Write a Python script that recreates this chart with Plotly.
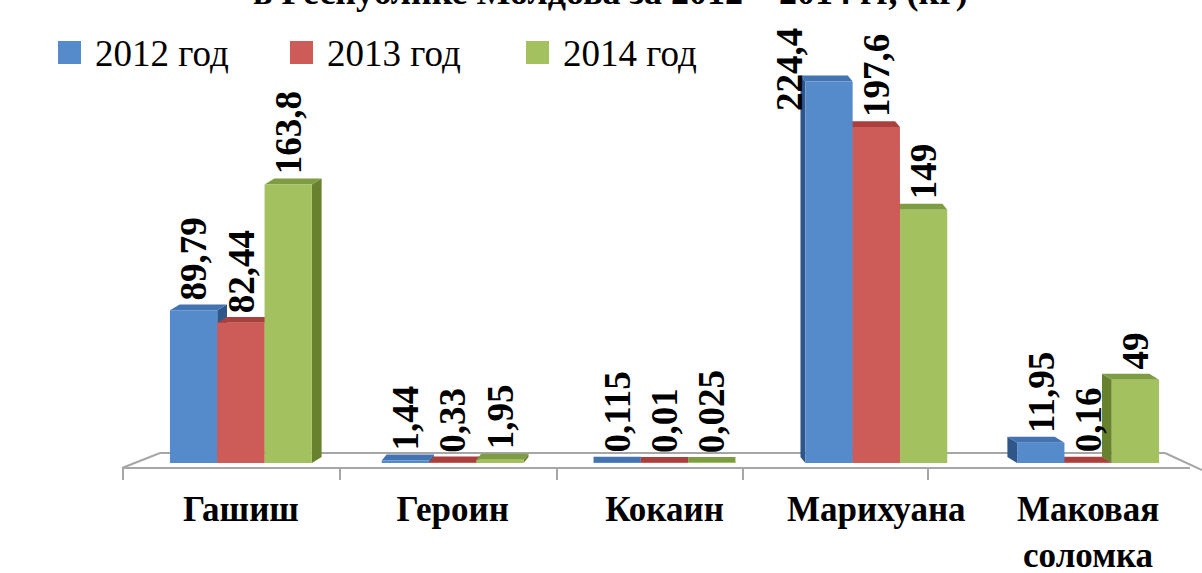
import plotly.graph_objects as go

categories = ["Гашиш", "Героин", "Кокаин", "Марихуана", "Маковая<br>соломка"]
years = ["2012 год", "2013 год", "2014 год"]
v2012 = [89.79, 1.44, 0.115, 224.4, 11.95]
v2013 = [82.44, 0.33, 0.01, 197.6, 0.16]
v2014 = [163.8, 1.95, 0.025, 149, 49]
labels2012 = ["89,79", "1,44", "0,115", "224,4", "11,95"]
labels2013 = ["82,44", "0,33", "0,01", "197,6", "0,16"]
labels2014 = ["163,8", "1,95", "0,025", "149", "49"]
title_text = "в Республике Молдова за 2012 – 2014 гг, (кг)"

series = [v2012, v2013, v2014]
series_labels = [labels2012, labels2013, labels2014]
front_colors = ["#558ACB", "#CD5C59", "#A3C25F"]
side_colors = ["#2F5688", "#8F3C39", "#67812F"]
top_colors = ["#4373B0", "#A9403D", "#7E9C42"]

W, H = 1202, 573
L, R, T, B = 135, 8, 38, 110
PW, PH = W - L - R, H - T - B
YMAX = 250

def xp(px):
    return (px - L) / PW

def yp(py):
    return (H - B - py) / PH

SERIF = "'Liberation Serif', 'Times New Roman', Tinos, 'DejaVu Serif', serif"
BAR_W = 0.67 / 3
xs = list(range(len(categories)))

fig = go.Figure()
for i, (vals, name) in enumerate(zip(series, years)):
    fig.add_trace(go.Bar(
        x=xs, y=vals, name=name, width=BAR_W,
        offset=(i - 1.5) * BAR_W,
        marker=dict(color=front_colors[i], line=dict(width=0)),
        showlegend=False, hoverinfo="skip",
    ))

shapes = []
grey = "#A6A6A6"
# floor (axis decoration)
floor = [((122, 468), (160, 453)), ((160, 453), (1165, 453)), ((122, 468), (1190, 468)),
         ((1165, 453), (1202, 470))]
for (x0, y0), (x1, y1) in floor:
    shapes.append(dict(type="line", xref="paper", yref="paper", x0=xp(x0), y0=yp(y0),
                       x1=xp(x1), y1=yp(y1), line=dict(color=grey, width=2), layer="below"))
for tx in [123, 340, 557, 743, 928]:
    shapes.append(dict(type="line", xref="paper", yref="paper", x0=xp(tx), y0=yp(468),
                       x1=xp(tx), y1=yp(480), line=dict(color=grey, width=2), layer="below"))

# 3D faces derived from data
DY = 3.5
for c in xs:
    dx = -(c - 2) * 0.023
    for i, vals in enumerate(series):
        v = vals[c]
        x0 = c + (i - 1.5) * BAR_W
        x1 = x0 + BAR_W
        if dx != 0:
            xe = x1 if dx > 0 else x0
            path = f"M{xe},0 L{xe},{v} L{xe+dx},{v+DY} L{xe+dx},{DY} Z"
            shapes.append(dict(type="path", xref="x", yref="y", path=path,
                               fillcolor=side_colors[i], line=dict(width=0), layer="below"))
        path = f"M{x0},{v} L{x1},{v} L{x1+dx},{v+DY} L{x0+dx},{v+DY} Z"
        shapes.append(dict(type="path", xref="x", yref="y", path=path,
                           fillcolor=top_colors[i], line=dict(width=0), layer="below"))

annotations = []
for i, (vals, labs) in enumerate(zip(series, series_labels)):
    for c in xs:
        xshift, yshift = 0, 8
        if vals[c] > YMAX * 0.85:
            xshift, yshift = -40, -32
        annotations.append(dict(
            x=c + (i - 1) * BAR_W, y=vals[c], xref="x", yref="y",
            text=f"<b>{labs[c]}</b>", textangle=-90, showarrow=False,
            xanchor="center", yanchor="bottom", xshift=xshift, yshift=yshift,
            font=dict(family=SERIF, size=37, color="black"),
        ))

# legend (custom, larger swatches)
leg_sq = [58, 290, 526]
for i, name in enumerate(years):
    shapes.append(dict(type="rect", xref="paper", yref="paper",
                       x0=xp(leg_sq[i]), x1=xp(leg_sq[i] + 23), y0=yp(64), y1=yp(41),
                       fillcolor=front_colors[i], line=dict(width=0)))
    annotations.append(dict(x=xp(leg_sq[i] + 35), y=yp(54), xref="paper", yref="paper",
                            text=name, showarrow=False, xanchor="left", yanchor="middle",
                            font=dict(family=SERIF, size=37, color="black")))

annotations.append(dict(x=xp(610), y=yp(14), xref="paper", yref="paper",
                        text=f"<b>{title_text}</b>", showarrow=False,
                        xanchor="center", yanchor="bottom",
                        font=dict(family=SERIF, size=36, color="black")))

fig.update_layout(
    width=W, height=H,
    margin=dict(l=L, r=R, t=T, b=B),
    paper_bgcolor="white", plot_bgcolor="white",
    barmode="group",
    shapes=shapes, annotations=annotations,
    showlegend=False,
    xaxis=dict(tickmode="array", tickvals=xs, ticktext=[f"<b>{c}</b>" for c in categories],
               range=[-0.5, 4.5], showgrid=False, zeroline=False, showline=False, ticks="",
               ticklabelstandoff=22, automargin=False,
               tickfont=dict(family=SERIF, size=35, color="black")),
    yaxis=dict(range=[0, YMAX], visible=False, automargin=False),
)

fig.write_html("out.html", config={"displayModeBar": False},
               post_script="document.body.style.margin='0';")
